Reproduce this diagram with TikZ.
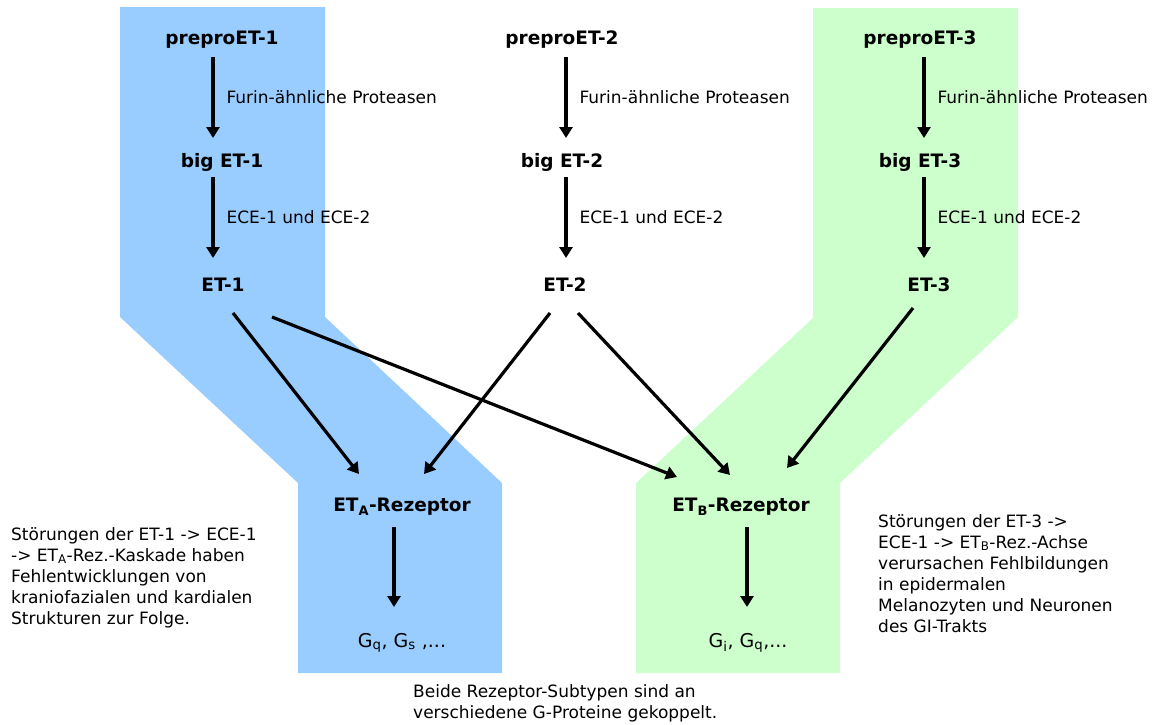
\documentclass[tikz,border=0pt]{standalone}
\usepackage{fontspec}
\setmainfont{DejaVu Sans}
\usetikzlibrary{arrows.meta,calc}
\definecolor{etablau}{RGB}{153,204,255}
\definecolor{etbgruen}{RGB}{204,255,204}
\tikzset{
  stoff/.style={font=\fontsize{18.5}{22}\selectfont\bfseries, inner sep=0pt},
  gprot/.style={font=\fontsize{19}{22}\selectfont, inner sep=0pt},
  enzym/.style={font=\fontsize{17}{21}\selectfont, inner sep=0pt, anchor=west},
  notiz/.style={font=\fontsize{17}{21}\selectfont, inner sep=0pt, align=left, anchor=north west},
  pfeil/.style={line width=3.2pt, -{Triangle[length=11pt,width=13pt]}},
}
\begin{document}
\begin{tikzpicture}[x=1pt, y=-1pt]
  \useasboundingbox (0,0) rectangle (1159,724);
  % Hintergrund: ETA-Achse blau, ETB-Achse gruen
  \fill[etablau] (120,7) -- (325,7) -- (325,317) -- (502,483) -- (502,673)
    -- (298,673) -- (298,483) -- (120,317) -- cycle;
  \fill[etbgruen] (813,8) -- (1018,8) -- (1018,317) -- (840,483) -- (840,673)
    -- (636,673) -- (636,483) -- (813,318) -- cycle;
  % Vorstufen und Spaltung
  \foreach \i/\x/\ex/\dx in {1/222/223/-9, 2/562/565/4, 3/920/929/4}{
    \node[stoff] (pre\i) at (\x,40) {preproET-\i};
    \node[stoff] (big\i) at (\x,162) {big ET-\i};
    \node[stoff] (et\i) at (\ex,285) {ET-\i};
    \draw[pfeil] ($(pre\i)+(\dx,17)$) -- ($(big\i)+(\dx,-24)$)
      node[enzym, midway, xshift=12pt] {Furin-ähnliche Proteasen};
    \draw[pfeil] ($(big\i)+(\dx,15)$) -- ($(big\i |- et\i)+(\dx,-27)$)
      node[enzym, midway, xshift=12pt] {ECE-1 und ECE-2};
  }
  % Rezeptoren und G-Proteine
  \node[stoff] (etA) at (402,507) {ET\textsubscript{A}-Rezeptor};
  \node[stoff] (etB) at (741,507) {ET\textsubscript{B}-Rezeptor};
  \node[gprot] (gA) at (402,643) {G\textsubscript{q}, G\textsubscript{s} ,...};
  \node[gprot] (gB) at (748,643) {G\textsubscript{i}, G\textsubscript{q},...};
  % Bindung an die Rezeptoren
  \draw[pfeil] ($(et1)+(10,28)$) -- ($(etA)+(-43,-33)$);
  \draw[pfeil] ($(et1)+(49,32)$) -- ($(etB)+(-64,-30)$);
  \draw[pfeil] ($(et2)+(-15,28)$) -- ($(etA)+(22,-33)$);
  \draw[pfeil] ($(et2)+(13,28)$) -- ($(etB)+(-11,-32)$);
  \draw[pfeil] ($(et3)+(-16,23)$) -- ($(etB)+(46,-39)$);
  % Kopplung
  \draw[pfeil] ($(etA)+(-8,20)$) -- ($(gA)+(-8,-36)$);
  \draw[pfeil] ($(etB)+(6,20)$) -- ($(gB)+(-1,-36)$);
  % Anmerkungen
  \node[notiz] (notizA) at (11,527) {Störungen der ET-1 -> ECE-1\\
    -> ET\textsubscript{A}-Rez.-Kaskade haben\\
    Fehlentwicklungen von\\
    kraniofazialen und kardialen\\
    Strukturen zur Folge.};
  \node[notiz] (notizB) at (878,514) {Störungen der ET-3 ->\\
    ECE-1 -> ET\textsubscript{B}-Rez.-Achse\\
    verursachen Fehlbildungen\\
    in epidermalen\\
    Melanozyten und Neuronen\\
    des GI-Trakts};
  \node[notiz] (notizG) at (413,684) {Beide Rezeptor-Subtypen sind an\\
    verschiedene G-Proteine gekoppelt.};
\end{tikzpicture}
\end{document}
